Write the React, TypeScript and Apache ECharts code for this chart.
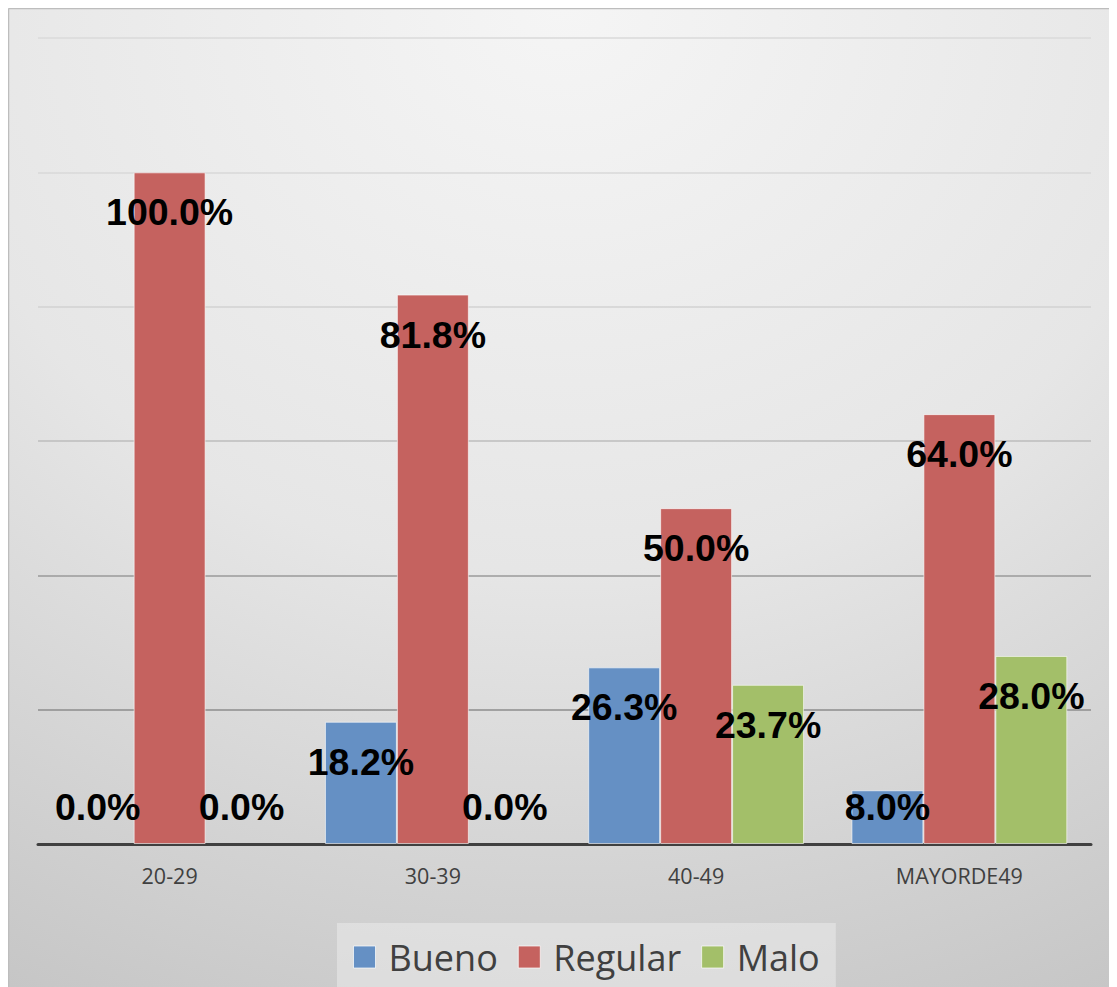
import React, { useEffect, useRef } from "react";
import * as echarts from "echarts";

const categories = ["20-29", "30-39", "40-49", "MAYORDE49"];
const bueno = [0.0, 18.2, 26.3, 8.0];
const regular = [100.0, 81.8, 50.0, 64.0];
const malo = [0.0, 0.0, 23.7, 28.0];
const seriesNames = ["Bueno", "Regular", "Malo"];
const colors = ["#6590c4", "#c5625f", "#a3bf69"];
const gridColors = ["#404040", "#8c8c8c", "#9a9a9a", "#bdbdbd", "#d2d2d2", "#d8d8d8", "#dadada"];

const labelFont = {
  fontFamily: "'Liberation Sans', Arial, sans-serif",
  fontWeight: "bold" as const,
  fontSize: 37.5,
  color: "#000",
};

function makeData(values: number[]) {
  return values.map((v) => {
    const small = v < 12;
    return {
      value: v,
      itemStyle: v === 0 ? { borderWidth: 0 } : undefined,
      label: small
        ? { position: "insideBottom", distance: 18 }
        : { position: "insideTop", distance: 21 },
    };
  });
}

export default function App() {
  const ref = useRef<HTMLDivElement>(null);
  useEffect(() => {
    if (!ref.current) return;
    const chart = echarts.init(ref.current, undefined, { renderer: "svg" });
    const allSeries = [bueno, regular, malo].map((vals, i) => ({
      name: seriesNames[i],
      type: "bar",
      data: makeData(vals),
      barGap: "0%",
      barCategoryGap: "18%",
      itemStyle: { color: colors[i], borderColor: "rgba(255,255,255,0.6)", borderWidth: 1 },
      label: {
        show: true,
        formatter: (p: any) => `${Number(p.value).toFixed(1)}%`,
        ...labelFont,
      },
      labelLayout: { hideOverlap: false },
    }));
    chart.setOption({
      animation: false,
      backgroundColor: new echarts.graphic.RadialGradient(0.5, 0, 1.15, [
        { offset: 0, color: "#f5f5f5" },
        { offset: 0.5, color: "#e6e6e6" },
        { offset: 1, color: "#c4c4c4" },
      ]),
      grid: { left: 30, right: 26, top: 30, bottom: 143 },
      legend: {
        bottom: -10,
        left: 329,
        itemWidth: 22,
        itemHeight: 22,
        itemGap: 20,
        padding: [16, 16, 22, 16],
        backgroundColor: "rgba(235,235,235,0.55)",
        icon: "rect",
        itemStyle: { borderColor: "rgba(255,255,255,0.7)", borderWidth: 1 },
        textStyle: {
          fontFamily: "'Open Sans', sans-serif",
          fontSize: 36,
          color: "#404040",
          padding: [0, 0, 0, 8],
        },
        data: seriesNames,
      },
      xAxis: {
        type: "category",
        data: categories,
        axisLine: { lineStyle: { color: "#404040", width: 3 } },
        axisTick: { show: false },
        axisLabel: {
          margin: 20,
          fontFamily: "'Open Sans', sans-serif",
          fontSize: 21.5,
          color: "#404040",
        },
      },
      yAxis: {
        type: "value",
        min: 0,
        max: 120,
        interval: 20,
        axisLabel: { show: false },
        axisLine: { show: false },
        axisTick: { show: false },
        splitLine: { lineStyle: { color: gridColors, width: 1.5 } },
      },
      graphic: [
        {
          type: "line",
          shape: { x1: 0.5, y1: 0.5, x2: 1109, y2: 0.5 },
          style: { stroke: "#bdbdbd", lineWidth: 1.5 },
        },
        {
          type: "line",
          shape: { x1: 0.5, y1: 0.5, x2: 0.5, y2: 979 },
          style: { stroke: "#bdbdbd", lineWidth: 1.5 },
        },
      ],
      series: allSeries,
    });
    return () => chart.dispose();
  }, []);
  return <div ref={ref} style={{ width: 1109, height: 979 }} />;
}
